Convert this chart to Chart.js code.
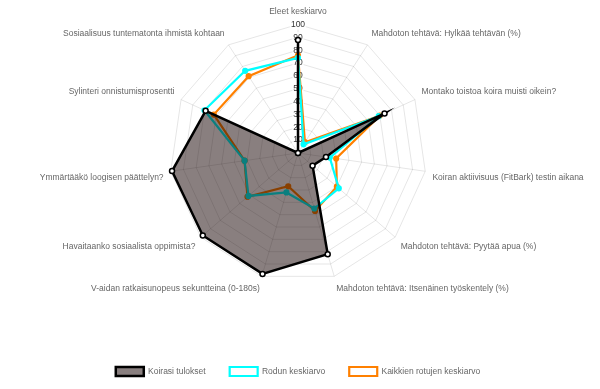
<!DOCTYPE html>
<html>
<head>
<meta charset="utf-8">
<script src="https://cdn.jsdelivr.net/npm/chart.js@4"></script>
<style>
  body { margin: 0; background: #fff; }
  #wrap { width: 600px; height: 389px; }
</style>
</head>
<body>
<div id="wrap"><canvas id="myChart"></canvas></div>
<script>
// data
const kategoriat = [
  'Eleet keskiarvo',
  'Mahdoton tehtävä: Hylkää tehtävän (%)',
  'Montako toistoa koira muisti oikein?',
  'Koiran aktiivisuus (FitBark) testin aikana',
  'Mahdoton tehtävä: Pyytää apua (%)',
  'Mahdoton tehtävä: Itsenäinen työskentely (%)',
  'V-aidan ratkaisunopeus sekuntteina (0-180s)',
  'Havaitaanko sosiaalista oppimista?',
  'Ymmärtääkö loogisen päättelyn?',
  'Sylinteri onnistumisprosentti',
  'Sosiaalisuus tuntematonta ihmistä kohtaan'
];
const koirasiTulokset = [88, 0, 74, 22, 15, 82, 98, 98, 99, 79, 0];
const rodunKeskiarvo = [74, 8, 69, 25, 42, 45, 32, 51, 42, 80, 76];
const kaikkienKeskiarvo = [76, 10, 70, 30, 40, 47, 27, 52, 42, 72, 71];

const fontti = 'Arial, "Liberation Sans", sans-serif';

const data = {
  labels: kategoriat,
  datasets: [{
    label: 'Koirasi tulokset',
    data: koirasiTulokset,
    backgroundColor: 'rgba(20, 0, 0, 0.5)',
    borderColor: '#000',
    borderWidth: 2.5,
    pointBackgroundColor: '#fff',
    pointBorderColor: '#000',
    pointBorderWidth: 1.5,
    pointRadius: 2.5
  }, {
    label: 'Rodun keskiarvo',
    data: rodunKeskiarvo,
    backgroundColor: 'rgba(255, 255, 255, 0)',
    borderColor: '#00ffff',
    borderWidth: 2.2,
    pointBackgroundColor: '#00ffff',
    pointBorderColor: '#00ffff',
    pointRadius: 2
  }, {
    label: 'Kaikkien rotujen keskiarvo',
    data: kaikkienKeskiarvo,
    backgroundColor: 'rgba(255, 255, 255, 0)',
    borderColor: 'rgb(255, 128, 0)',
    borderWidth: 2.2,
    pointBackgroundColor: 'rgb(255, 128, 0)',
    pointBorderColor: 'rgb(255, 128, 0)',
    pointRadius: 2
  }]
};

const config = {
  type: 'radar',
  data,
  options: {
    responsive: true,
    maintainAspectRatio: false,
    animation: false,
    layout: { padding: { top: 5, left: 0, right: 4, bottom: 3 } },
    scales: {
      r: {
        min: 0,
        max: 100,
        ticks: {
          stepSize: 10,
          color: '#333',
          font: { family: fontti, size: 8.5 },
          backdropPadding: 1
        },
        grid: { color: 'rgba(0,0,0,0.1)' },
        angleLines: { color: 'rgba(0,0,0,0.1)' },
        pointLabels: {
          color: '#666',
          font: { family: fontti, size: 8.5 },
          padding: 2
        }
      }
    },
    plugins: {
      legend: {
        position: 'bottom',
        title: {
          // tyhjä otsikko = väli kaavion ja selitteen väliin
          display: true,
          text: ' ',
          font: { size: 10 },
          padding: { top: 34, bottom: 0 }
        },
        labels: {
          color: '#666',
          font: { family: fontti, size: 8.5 },
          boxWidth: 28,
          boxHeight: 9,
          padding: 24
        }
      },
      tooltip: { enabled: false }
    }
  }
};

const myChart = new Chart(document.getElementById('myChart'), config);
</script>
</body>
</html>
